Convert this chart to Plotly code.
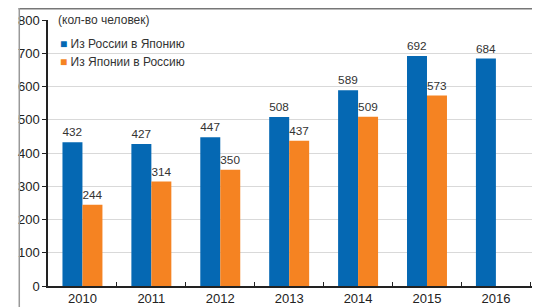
import plotly.graph_objects as go

years = ["2010", "2011", "2012", "2013", "2014", "2015", "2016"]
russia_to_japan = [432, 427, 447, 508, 589, 692, 684]
japan_to_russia = [244, 314, 350, 437, 509, 573, None]
series_names = ["Из России в Японию", "Из Японии в Россию"]
unit_label = "(кол-во человек)"

blue = "#0568b3"
orange = "#f58322"

# page has an 8px body margin; the figure is sized to fill the rest of the 540x307 window
OFF = 8
W, H = 540 - OFF, 307 - OFF
# plot area in screen pixels: x 47.5..540, y 20..286
ml, mr, mt, mb = 47.5 - OFF, 0, 20 - OFF, 307 - 286
pw, ph = W - ml - mr, H - mt - mb

def sx(px):
    return (px - OFF - ml) / pw

def sy(py):
    return (H - mb - (py - OFF)) / ph

fig = go.Figure()
fig.add_trace(go.Bar(
    x=years, y=russia_to_japan, name=series_names[0],
    marker=dict(color=blue, line=dict(width=0)),
    text=[str(v) for v in russia_to_japan], textposition="outside",
    textfont=dict(size=12, color="#333333"), cliponaxis=False,
))
fig.add_trace(go.Bar(
    x=years, y=japan_to_russia, name=series_names[1],
    marker=dict(color=orange, line=dict(width=0)),
    text=[str(v) if v is not None else "" for v in japan_to_russia], textposition="outside",
    textfont=dict(size=12, color="#333333"), cliponaxis=False,
))

legend_annots = []
for i, (nm, col) in enumerate(zip(series_names, [blue, orange])):
    legend_annots.append(dict(
        text=f"<span style='color:{col}'>■</span> {nm}",
        xref="paper", yref="paper", x=sx(58), y=sy(44 + 18 * i),
        xanchor="left", yanchor="middle", showarrow=False,
        font=dict(size=12, color="#333333")))

fig.update_layout(
    width=W, height=H,
    margin=dict(l=ml, r=mr, t=mt, b=mb, pad=0),
    paper_bgcolor="white", plot_bgcolor="white",
    font=dict(family="Liberation Sans, Arial, sans-serif", size=12, color="#222222"),
    barmode="group", bargap=0.42, bargroupgap=0,
    showlegend=False,
    xaxis=dict(type="category", range=[-0.5, 6.64], showgrid=False,
               showline=True, linecolor="#222222", linewidth=1.5,
               ticks="inside", tickson="boundaries", ticklen=4, tickcolor="#222222",
               tickfont=dict(size=13, color="#222222")),
    yaxis=dict(range=[0, 800], dtick=100, showgrid=True, gridcolor="#d9d9d9", gridwidth=1,
               showline=True, linecolor="#222222", linewidth=1.5,
               ticks="outside", ticklen=4, tickcolor="#222222",
               tickfont=dict(size=13, color="#222222"), zeroline=False),
    annotations=[dict(text=unit_label, xref="paper", yref="paper",
                      x=sx(56), y=1, xanchor="left", yanchor="middle",
                      showarrow=False, bgcolor="white",
                      font=dict(size=12, color="#333333"))] + legend_annots,
    shapes=[
        dict(type="line", xref="paper", yref="paper",
             x0=sx(18), x1=sx(541), y0=sy(8.75), y1=sy(8.75),
             line=dict(color="#777777", width=1.5)),
        dict(type="line", xref="paper", yref="paper",
             x0=sx(18.75), x1=sx(18.75), y0=sy(8), y1=sy(308),
             line=dict(color="#999999", width=1.5)),
    ],
)

fig.write_html("out.html")
